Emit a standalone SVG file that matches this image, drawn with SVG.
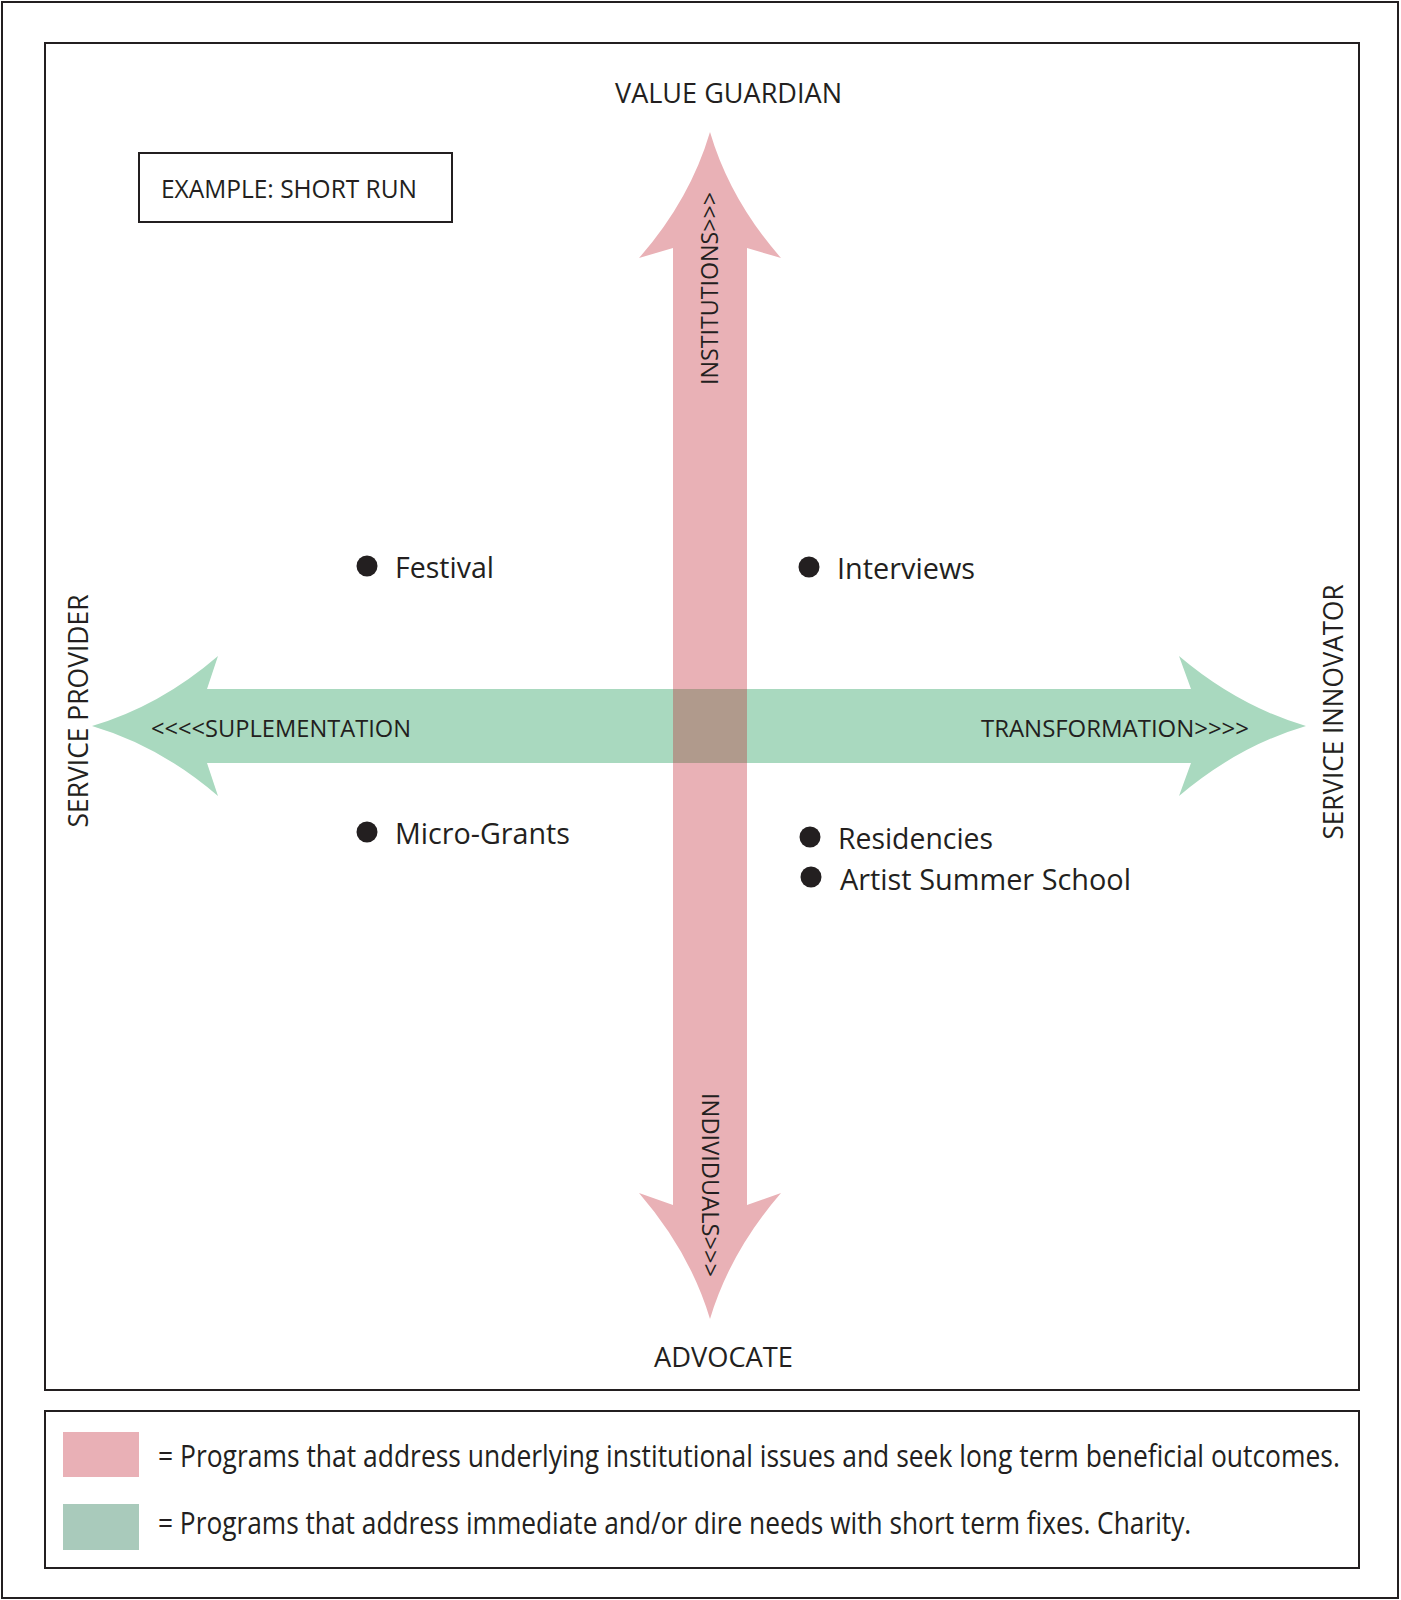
<svg xmlns="http://www.w3.org/2000/svg" width="1401" height="1600" viewBox="0 0 1401 1600">
<style>
text{font-family:"Open Sans","Noto Sans","Liberation Sans",sans-serif;fill:#231f20}
.frame{fill:none;stroke:#231f20;stroke-width:2}
.axis{font-size:28px}
.lbl{font-size:24px}
.item{font-size:29px}
.leg{font-size:31px}
.dot{fill:#231f20}
</style>
<rect x="0" y="0" width="1401" height="1600" fill="#ffffff"/>
<rect class="frame" x="2" y="2" width="1396" height="1596" stroke-width="2.5"/>
<rect class="frame" x="45" y="43" width="1314" height="1347"/>
<g id="example-box">
<rect class="frame" x="139" y="153" width="313" height="69"/>
<text x="161" y="198" font-size="25" textLength="256" lengthAdjust="spacingAndGlyphs">EXAMPLE: SHORT RUN</text>
</g>
<g id="connectors">
<path id="green-arrow" fill="#a9d9bf" d="M92,726 Q160,706 218,656 L207,689 L1191,689 L1179,656 Q1238,706 1306,726 Q1238,746 1179,796 L1191,763 L207,763 L218,796 Q160,746 92,726 Z"/>
<path id="pink-arrow" fill="#e9b1b6" d="M710,132 Q690,200 639,258 L673,248 L673,1205 L639,1193 Q690,1252 710,1319 Q730,1252 781,1193 L747,1205 L747,248 L781,258 Q730,200 710,132 Z"/>
<rect x="673" y="689" width="74" height="74" fill="#b09a8c"/>
<text class="lbl" x="151" y="737" textLength="260" lengthAdjust="spacingAndGlyphs">&lt;&lt;&lt;&lt;SUPLEMENTATION</text>
<text class="lbl" x="981" y="737" textLength="268" lengthAdjust="spacingAndGlyphs">TRANSFORMATION&gt;&gt;&gt;&gt;</text>
<text class="lbl" transform="translate(718,288.5) rotate(-90)" x="0" y="0" text-anchor="middle" textLength="193" lengthAdjust="spacingAndGlyphs">INSTITUTIONS&gt;&gt;&gt;</text>
<text class="lbl" transform="translate(702,1185) rotate(90)" x="0" y="0" text-anchor="middle" textLength="184" lengthAdjust="spacingAndGlyphs">INDIVIDUALS&gt;&gt;&gt;</text>
</g>
<g id="axis-top"><text class="axis" x="615" y="103" textLength="227" lengthAdjust="spacingAndGlyphs">VALUE GUARDIAN</text></g>
<g id="axis-bottom"><text class="axis" x="654" y="1367" textLength="139" lengthAdjust="spacingAndGlyphs">ADVOCATE</text></g>
<g id="axis-left"><text class="axis" transform="translate(88,711) rotate(-90)" x="0" y="0" text-anchor="middle" textLength="233" lengthAdjust="spacingAndGlyphs">SERVICE PROVIDER</text></g>
<g id="axis-right"><text class="axis" transform="translate(1343,712) rotate(-90)" x="0" y="0" text-anchor="middle" textLength="255" lengthAdjust="spacingAndGlyphs">SERVICE INNOVATOR</text></g>
<g id="festival">
<circle class="dot" cx="367" cy="566" r="10.5"/>
<text class="item" x="395" y="578" textLength="99" lengthAdjust="spacingAndGlyphs">Festival</text>
</g>
<g id="interviews">
<circle class="dot" cx="809" cy="567" r="10.5"/>
<text class="item" x="837" y="579" textLength="138" lengthAdjust="spacingAndGlyphs">Interviews</text>
</g>
<g id="micro-grants">
<circle class="dot" cx="367" cy="832" r="10.5"/>
<text class="item" x="395" y="844" textLength="175" lengthAdjust="spacingAndGlyphs">Micro-Grants</text>
</g>
<g id="residencies">
<circle class="dot" cx="810" cy="837" r="10.5"/>
<text class="item" x="838" y="849" textLength="155" lengthAdjust="spacingAndGlyphs">Residencies</text>
</g>
<g id="artist-summer-school">
<circle class="dot" cx="811" cy="877" r="10.5"/>
<text class="item" x="840" y="890" textLength="291" lengthAdjust="spacingAndGlyphs">Artist Summer School</text>
</g>
<g id="legend">
<rect class="frame" x="45" y="1411" width="1314" height="157"/>
<rect x="63" y="1432" width="76" height="45" fill="#e9b0b6"/>
<rect x="63" y="1504" width="76" height="46" fill="#a9cabb"/>
<text class="leg" transform="translate(158,1467) scale(0.84,1)" x="0" y="0" textLength="1407" lengthAdjust="spacingAndGlyphs">= Programs that address underlying institutional issues and seek long term beneficial outcomes.</text>
<text class="leg" transform="translate(158,1534) scale(0.84,1)" x="0" y="0" textLength="1230" lengthAdjust="spacingAndGlyphs">= Programs that address immediate and/or dire needs with short term fixes. Charity.</text>
</g>
</svg>
